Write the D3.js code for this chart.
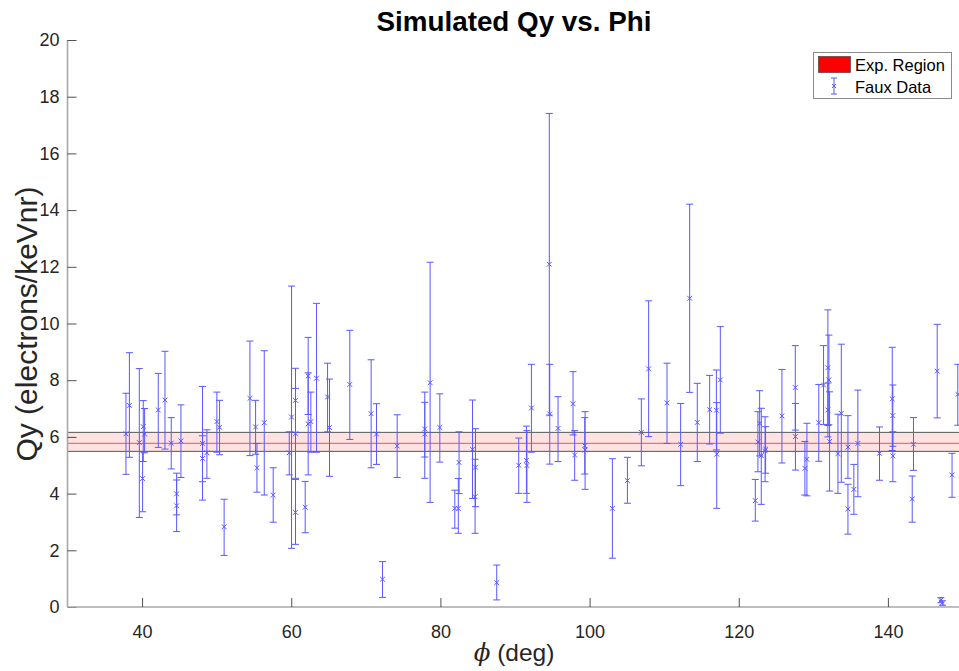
<!DOCTYPE html>
<html><head><meta charset="utf-8">
<script src="https://cdn.jsdelivr.net/npm/d3@7"></script>
<style>body{margin:0;background:#fff}svg{display:block}</style>
</head><body>
<svg id="c" width="959" height="671"></svg>
<script>
// ---- data ----
const phi = [37.84,38.3,39.63,40.16,40.34,40.07,42.17,43.07,43.91,44.63,44.63,45.21,48.1,48.1,48.69,50.03,50.39,51.0,54.46,55.22,55.4,56.38,57.58,59.73,60.04,60.57,60.57,60.57,61.87,62.27,62.27,62.63,63.39,64.87,65.13,67.85,70.71,71.43,72.24,74.2,77.9,77.9,78.62,79.92,81.93,82.5,82.4,84.3,84.7,84.65,87.55,90.5,91.53,91.6,92.2,94.6,94.66,95.77,97.78,98.0,99.35,99.4,103.06,105.07,106.94,107.92,110.38,112.21,113.42,114.44,116.1,117.0,117.05,117.53,122.22,122.57,122.8,123.02,123.53,123.6,125.79,127.58,127.6,128.87,129.14,130.73,131.37,131.95,132.09,131.95,132.18,133.3,133.75,134.64,134.64,135.43,135.97,138.87,140.58,140.66,140.66,143.43,143.26,146.61,147.1,147.3,148.6,149.37];
const qy = [6.11,7.11,5.80,6.36,6.10,4.53,6.95,7.30,5.78,3.99,3.57,5.86,5.77,5.24,5.44,6.54,6.34,2.83,7.36,6.35,4.91,6.50,3.95,5.44,6.70,7.29,6.11,3.34,3.52,8.15,6.46,6.54,8.07,7.41,6.33,7.85,6.82,6.10,0.98,5.68,6.28,6.10,7.91,6.33,3.48,5.10,3.48,5.56,4.93,3.89,0.86,5.00,5.17,4.99,7.02,12.09,6.81,6.30,7.17,5.36,5.69,5.54,3.48,4.46,6.16,8.40,7.20,5.74,10.89,6.51,6.96,6.94,5.39,8.01,3.75,5.82,6.48,5.34,5.51,5.57,6.74,7.74,6.01,4.89,5.21,6.50,7.83,8.44,8.01,6.95,5.84,5.41,6.83,5.64,3.46,4.15,5.77,5.42,7.34,6.75,5.33,5.74,3.81,8.32,0.24,0.14,4.66,7.50];
const qyHi = [7.54,8.97,8.41,7.28,7.00,5.47,8.24,9.02,6.68,4.72,4.48,7.13,7.78,6.04,6.25,7.58,7.29,3.80,9.38,7.29,5.77,9.04,4.91,6.18,11.32,8.42,7.71,4.50,4.43,9.51,8.26,7.58,10.71,8.60,8.04,9.76,8.72,7.17,1.60,6.78,7.22,7.58,12.16,7.52,4.12,6.18,4.53,7.30,6.29,5.21,1.48,5.96,6.38,6.22,8.56,17.41,8.56,7.42,8.30,6.22,6.68,6.89,5.23,5.28,7.34,10.80,8.60,7.18,14.21,7.89,8.17,8.36,7.21,9.89,4.50,6.89,7.63,7.01,6.71,6.36,8.38,9.22,7.18,5.84,6.48,7.85,9.22,10.48,9.59,7.90,7.59,6.80,9.27,6.75,4.33,5.03,7.65,6.35,9.16,7.83,6.18,6.68,4.62,9.97,0.33,0.22,5.42,8.56];
const qyLo = [4.68,5.28,3.16,5.13,5.44,3.36,5.63,5.57,4.87,3.25,2.66,4.57,3.77,4.42,4.54,5.46,5.37,1.82,5.34,5.39,4.05,3.95,2.99,4.66,2.07,6.16,4.54,2.21,2.62,6.79,4.66,5.46,5.46,6.18,4.61,5.91,4.91,5.03,0.34,4.57,5.29,4.54,3.69,5.11,2.78,4.00,2.60,3.83,3.54,2.60,0.25,4.01,4.01,3.69,5.46,6.77,5.04,5.13,6.07,4.47,4.69,4.15,1.72,3.66,4.98,6.01,5.77,4.28,7.57,5.13,5.75,5.54,3.48,6.13,3.03,4.77,5.33,3.62,4.42,4.72,5.08,6.24,4.83,3.95,3.92,5.14,6.44,6.40,6.43,6.00,4.09,4.01,4.40,4.54,2.57,3.27,3.89,4.47,5.52,5.67,4.42,4.82,2.99,6.67,0.15,0.06,3.87,6.41];
const expLow = 5.49, expMid = 5.77, expHigh = 6.16;
const xTicks = [40,60,80,100,120,140];
const yTicks = [0,2,4,6,8,10,12,14,16,18,20];
const titleText = "Simulated Qy vs. Phi";
const legendLabels = ["Exp. Region","Faux Data"];

// ---- layout ----
const svg = d3.select("#c");
const L = 67.5, R = 962.5, T = 40, B = 607;
const x = d3.scaleLinear().domain([30,150]).range([L,R]);
const y = d3.scaleLinear().domain([0,20]).range([B,T]);
const font = "'Liberation Sans', Arial, Helvetica, sans-serif";
const ink = "#262626";
const blue = "#5858ff";

// exp band
const g = svg.append("g");
g.append("rect").attr("x",x(30)).attr("width",x(150)-x(30))
  .attr("y",y(expHigh)).attr("height",y(expLow)-y(expHigh))
  .attr("fill","#ffe3e3");
[expLow,expHigh].forEach(v=>g.append("line").attr("x1",x(30)).attr("x2",x(150))
  .attr("y1",y(v)).attr("y2",y(v)).attr("stroke","#555").attr("stroke-width",1));
g.append("line").attr("x1",x(30)).attr("x2",x(150)).attr("y1",y(expMid)).attr("y2",y(expMid))
  .attr("stroke","#f07070").attr("stroke-width",1.2);

// axes
const yAxis = d3.axisLeft(y).tickValues(yTicks).tickSize(-9).tickPadding(8).tickFormat(d3.format("d"));
const xAxis = d3.axisBottom(x).tickValues(xTicks).tickSize(-9).tickPadding(18).tickFormat(d3.format("d"));
const ya = svg.append("g").attr("transform",`translate(${L},0)`).call(yAxis);
const xa = svg.append("g").attr("transform",`translate(0,${B})`).call(xAxis);
[ya,xa].forEach(a=>{
  a.select(".domain").attr("stroke","#a8a8a8").attr("stroke-width",1.6);
  a.selectAll(".tick line").attr("stroke",ink).attr("stroke-width",0.8);
  a.selectAll(".tick text").attr("fill",ink).attr("font-family",font).attr("font-size",18);
});
ya.select(".domain").attr("d",`M0,${B}V${T}`);
xa.select(".domain").attr("d",`M${L},0H${R}`);

// error bars
const data = phi.map((p,i)=>({p,q:qy[i],hi:qyHi[i],lo:qyLo[i]}));
const eb = svg.append("g").attr("stroke",blue).attr("stroke-width",1).attr("fill","none");
const cw = 3.5, ms = 2.4;
data.forEach(d=>{
  const cx = x(d.p);
  eb.append("line").attr("x1",cx).attr("x2",cx).attr("y1",y(d.hi)).attr("y2",y(d.lo));
  eb.append("line").attr("x1",cx-cw).attr("x2",cx+cw).attr("y1",y(d.hi)).attr("y2",y(d.hi));
  eb.append("line").attr("x1",cx-cw).attr("x2",cx+cw).attr("y1",y(d.lo)).attr("y2",y(d.lo));
  const cy = y(d.q);
  eb.append("path").attr("d",`M${cx-ms},${cy-ms}L${cx+ms},${cy+ms}M${cx-ms},${cy+ms}L${cx+ms},${cy-ms}`);
});

// title & labels
svg.append("text").attr("x",514).attr("y",31).attr("text-anchor","middle")
  .attr("font-family",font).attr("font-weight","bold").attr("font-size",27.8).attr("fill","#000").text(titleText);
svg.append("text").attr("transform","translate(37,324) rotate(-90)").attr("text-anchor","middle")
  .attr("font-family",font).attr("font-size",30).attr("fill",ink).text("Qy (electrons/keVnr)");
const xl = svg.append("text").attr("x",514).attr("y",661).attr("text-anchor","middle")
  .attr("font-family",font).attr("font-size",24.5).attr("fill",ink);
xl.append("tspan").attr("font-style","italic").attr("font-family","'DejaVu Serif', serif").text("\u03d5");
xl.append("tspan").text(" (deg)");

// legend
const lg = svg.append("g");
lg.append("rect").attr("x",813.5).attr("y",52.5).attr("width",138).attr("height",46)
  .attr("fill","#fff").attr("stroke","#8a8a8a").attr("stroke-width",1);
lg.append("rect").attr("x",818.5).attr("y",56.5).attr("width",32).attr("height",16)
  .attr("fill","#ff0000").attr("stroke","#333").attr("stroke-width",0.6);
const lx = 834, ly1 = 78, ly2 = 94, lym = 86;
lg.append("line").attr("x1",lx).attr("x2",lx).attr("y1",ly1).attr("y2",ly2).attr("stroke",blue);
lg.append("line").attr("x1",lx-3).attr("x2",lx+3).attr("y1",ly1).attr("y2",ly1).attr("stroke",blue);
lg.append("line").attr("x1",lx-3).attr("x2",lx+3).attr("y1",ly2).attr("y2",ly2).attr("stroke",blue);
lg.append("path").attr("d",`M${lx-2},${lym-2}L${lx+2},${lym+2}M${lx-2},${lym+2}L${lx+2},${lym-2}`).attr("stroke",blue);
lg.append("text").attr("x",855).attr("y",71).attr("font-family",font).attr("font-size",16.5).attr("fill","#000").text(legendLabels[0]);
lg.append("text").attr("x",855).attr("y",93).attr("font-family",font).attr("font-size",16.5).attr("fill","#000").text(legendLabels[1]);
</script>
</body></html>
